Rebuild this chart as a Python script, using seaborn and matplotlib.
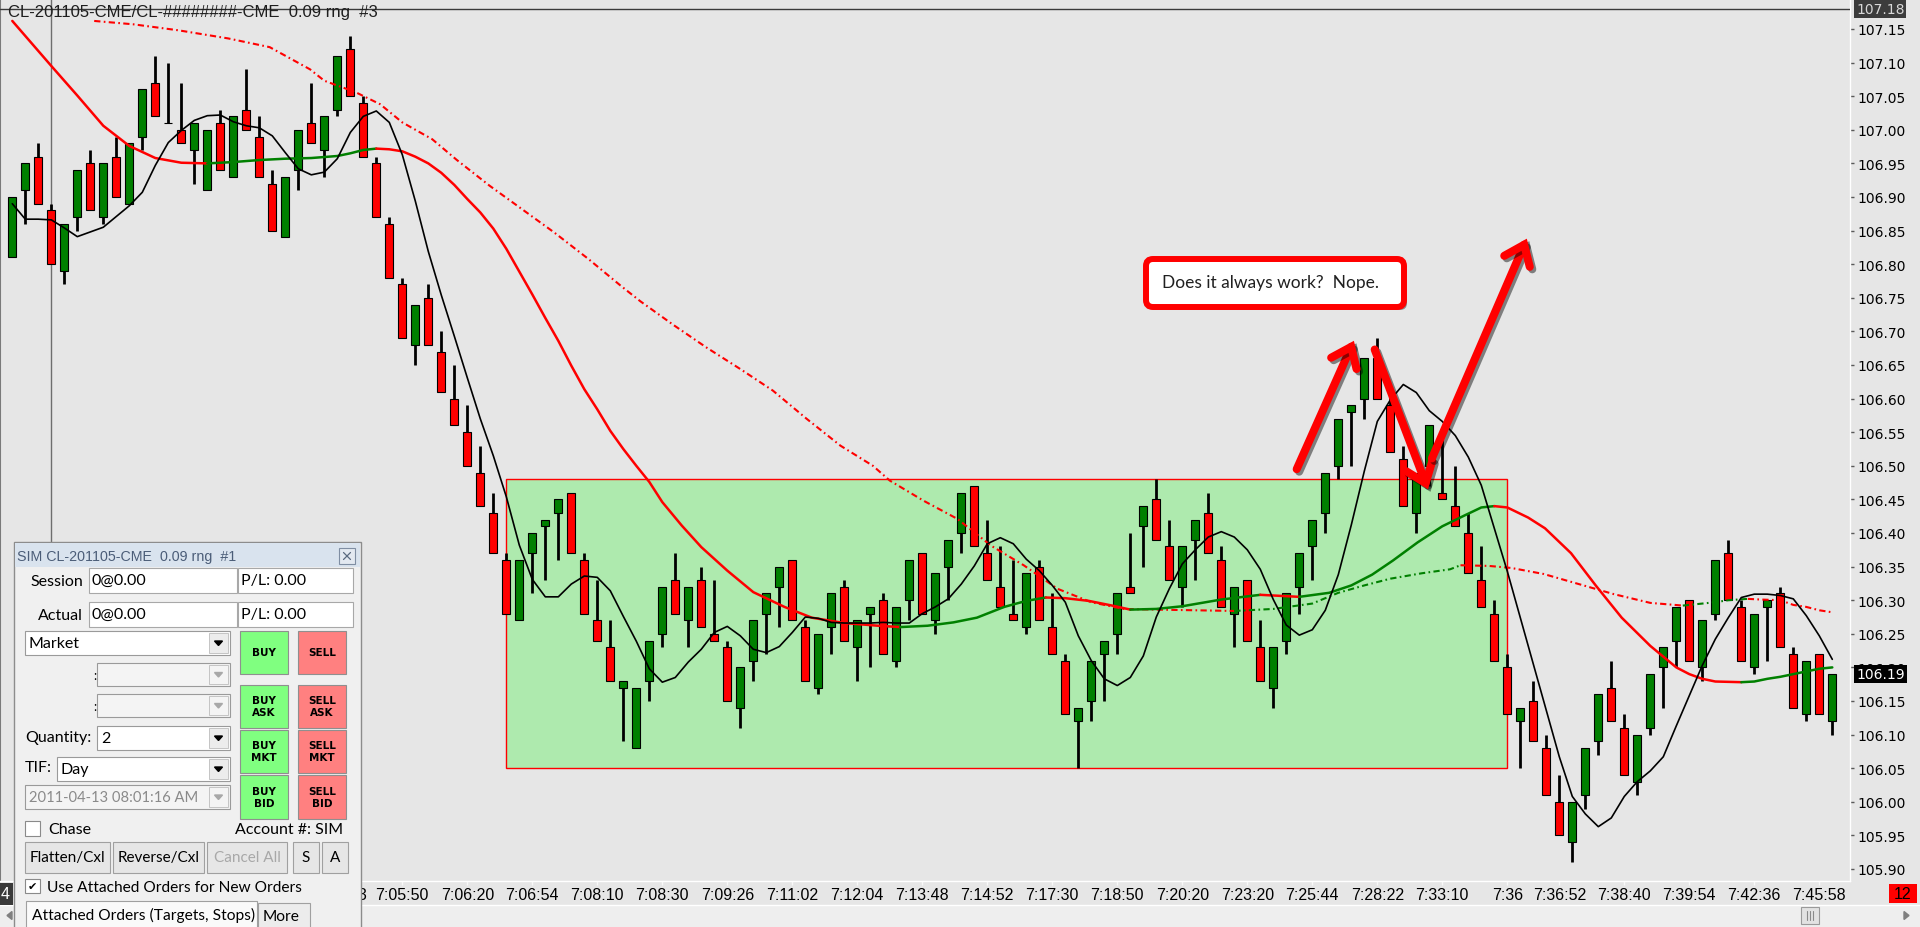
import matplotlib
matplotlib.use("Agg")
import matplotlib.pyplot as plt
import matplotlib.patheffects as pe
import matplotlib.transforms as mtransforms
from matplotlib.patches import FancyBboxPatch, Polygon, Rectangle
import numpy as np
import pandas as pd
import seaborn as sns

# 0.09 range bars, CL-201105
bar_open = [
    106.81, 106.91, 106.96, 106.88, 106.79, 106.87, 106.95, 106.87, 106.96, 106.89,
    106.99, 107.07, 107.01, 107.00, 106.97, 106.91, 107.01, 106.93, 107.03, 106.99,
    106.92, 106.84, 106.94, 107.01, 106.97, 107.03, 107.12, 107.04, 106.95, 106.86,
    106.77, 106.68, 106.75, 106.67, 106.60, 106.55, 106.49, 106.43, 106.36, 106.27,
    106.37, 106.41, 106.43, 106.46, 106.36, 106.27, 106.23, 106.17, 106.08, 106.18,
    106.25, 106.33, 106.27, 106.33, 106.25, 106.23, 106.14, 106.21, 106.28, 106.32,
    106.36, 106.26, 106.17, 106.26, 106.32, 106.23, 106.28, 106.30, 106.21, 106.30,
    106.37, 106.27, 106.35, 106.40, 106.47, 106.37, 106.32, 106.28, 106.26, 106.35,
    106.26, 106.21, 106.12, 106.15, 106.22, 106.25, 106.32, 106.41, 106.45, 106.38,
    106.32, 106.39, 106.43, 106.36, 106.28, 106.33, 106.23, 106.17, 106.24, 106.32,
    106.38, 106.43, 106.50, 106.58, 106.60, 106.66, 106.59, 106.51, 106.43, 106.50,
    106.46, 106.44, 106.40, 106.33, 106.28, 106.20, 106.12, 106.15, 106.08, 106.00,
    105.94, 106.01, 106.09, 106.17, 106.11, 106.03, 106.11, 106.20, 106.24, 106.30,
    106.20, 106.28, 106.37, 106.29, 106.20, 106.29, 106.31, 106.22, 106.13, 106.22,
    106.12,
]
bar_high = [
    106.90, 106.95, 106.98, 106.89, 106.86, 106.94, 106.97, 106.95, 106.99, 106.98,
    107.06, 107.11, 107.10, 107.07, 107.01, 107.00, 107.03, 107.02, 107.09, 107.02,
    106.94, 106.93, 107.00, 107.07, 107.02, 107.11, 107.14, 107.05, 106.96, 106.87,
    106.78, 106.74, 106.77, 106.70, 106.65, 106.59, 106.53, 106.46, 106.37, 106.36,
    106.40, 106.42, 106.45, 106.46, 106.37, 106.33, 106.27, 106.18, 106.17, 106.24,
    106.32, 106.37, 106.32, 106.35, 106.33, 106.24, 106.20, 106.27, 106.31, 106.35,
    106.36, 106.27, 106.25, 106.31, 106.33, 106.27, 106.29, 106.31, 106.29, 106.36,
    106.37, 106.34, 106.39, 106.46, 106.47, 106.42, 106.38, 106.36, 106.34, 106.36,
    106.31, 106.22, 106.14, 106.21, 106.24, 106.31, 106.40, 106.44, 106.48, 106.42,
    106.38, 106.42, 106.46, 106.38, 106.32, 106.33, 106.27, 106.23, 106.31, 106.37,
    106.42, 106.49, 106.57, 106.59, 106.66, 106.69, 106.61, 106.53, 106.49, 106.56,
    106.54, 106.50, 106.43, 106.38, 106.30, 106.22, 106.14, 106.18, 106.10, 106.04,
    106.00, 106.08, 106.16, 106.21, 106.13, 106.10, 106.19, 106.23, 106.29, 106.30,
    106.27, 106.36, 106.39, 106.30, 106.28, 106.30, 106.32, 106.23, 106.21, 106.22,
    106.19,
]
bar_low = [
    106.81, 106.86, 106.89, 106.80, 106.77, 106.85, 106.88, 106.86, 106.90, 106.89,
    106.97, 107.02, 107.01, 106.98, 106.92, 106.91, 106.94, 106.93, 107.00, 106.93,
    106.85, 106.84, 106.91, 106.98, 106.93, 107.02, 107.05, 106.96, 106.87, 106.78,
    106.69, 106.65, 106.68, 106.61, 106.56, 106.50, 106.44, 106.37, 106.28, 106.27,
    106.31, 106.33, 106.36, 106.37, 106.28, 106.24, 106.18, 106.09, 106.08, 106.15,
    106.23, 106.28, 106.23, 106.26, 106.24, 106.15, 106.11, 106.18, 106.22, 106.26,
    106.27, 106.18, 106.16, 106.22, 106.24, 106.18, 106.20, 106.22, 106.20, 106.27,
    106.28, 106.25, 106.30, 106.37, 106.38, 106.33, 106.29, 106.27, 106.25, 106.27,
    106.22, 106.13, 106.05, 106.12, 106.15, 106.22, 106.31, 106.35, 106.39, 106.33,
    106.29, 106.33, 106.37, 106.29, 106.23, 106.24, 106.18, 106.14, 106.22, 106.28,
    106.33, 106.40, 106.48, 106.50, 106.57, 106.60, 106.52, 106.44, 106.40, 106.47,
    106.45, 106.41, 106.34, 106.29, 106.21, 106.13, 106.05, 106.09, 106.01, 105.95,
    105.91, 105.99, 106.07, 106.12, 106.04, 106.01, 106.10, 106.14, 106.20, 106.21,
    106.18, 106.27, 106.30, 106.21, 106.19, 106.21, 106.23, 106.14, 106.12, 106.13,
    106.10,
]
bar_close = [
    106.90, 106.95, 106.89, 106.80, 106.86, 106.94, 106.88, 106.95, 106.90, 106.98,
    107.06, 107.02, 107.01, 106.98, 107.01, 107.00, 106.94, 107.02, 107.00, 106.93,
    106.85, 106.93, 107.00, 106.98, 107.02, 107.11, 107.05, 106.96, 106.87, 106.78,
    106.69, 106.74, 106.68, 106.61, 106.56, 106.50, 106.44, 106.37, 106.28, 106.36,
    106.40, 106.42, 106.45, 106.37, 106.28, 106.24, 106.18, 106.18, 106.17, 106.24,
    106.32, 106.28, 106.32, 106.26, 106.24, 106.15, 106.20, 106.27, 106.31, 106.35,
    106.27, 106.18, 106.25, 106.31, 106.24, 106.27, 106.29, 106.22, 106.29, 106.36,
    106.28, 106.34, 106.39, 106.46, 106.38, 106.33, 106.29, 106.27, 106.34, 106.27,
    106.22, 106.13, 106.14, 106.21, 106.24, 106.31, 106.31, 106.44, 106.39, 106.33,
    106.38, 106.42, 106.37, 106.29, 106.32, 106.24, 106.18, 106.23, 106.31, 106.37,
    106.42, 106.49, 106.57, 106.59, 106.66, 106.60, 106.52, 106.44, 106.49, 106.56,
    106.45, 106.41, 106.34, 106.29, 106.21, 106.13, 106.14, 106.09, 106.01, 105.95,
    106.00, 106.08, 106.16, 106.12, 106.04, 106.10, 106.19, 106.23, 106.29, 106.21,
    106.27, 106.36, 106.30, 106.21, 106.28, 106.30, 106.23, 106.14, 106.21, 106.13,
    106.19,
]

# black fast average, one value per bar
fast_ma = [
    106.890, 106.867, 106.867, 106.866, 106.854, 106.841, 106.848, 106.855, 106.871, 106.887,
    106.907, 106.947, 106.981, 106.999, 107.014, 107.021, 107.022, 107.012, 107.006, 107.003,
    106.991, 106.966, 106.942, 106.933, 106.937, 106.957, 106.996, 107.020, 107.028, 107.011,
    106.963, 106.894, 106.819, 106.754, 106.693, 106.631, 106.570, 106.515, 106.454, 106.382,
    106.331, 106.305, 106.305, 106.324, 106.336, 106.334, 106.314, 106.276, 106.239, 106.198,
    106.178, 106.185, 106.208, 106.227, 106.252, 106.261, 106.247, 106.227, 106.222, 106.231,
    106.252, 106.275, 106.273, 106.267, 106.266, 106.266, 106.266, 106.267, 106.266, 106.266,
    106.280, 106.290, 106.302, 106.324, 106.351, 106.384, 106.393, 106.384, 106.361, 106.344,
    106.322, 106.297, 106.247, 106.210, 106.183, 106.173, 106.185, 106.217, 106.275, 106.317,
    106.354, 106.375, 106.394, 106.402, 106.394, 106.375, 106.346, 106.301, 106.263, 106.248,
    106.256, 106.285, 106.338, 106.412, 106.492, 106.566, 106.598, 106.621, 106.609, 106.582,
    106.566, 106.545, 106.513, 106.471, 106.407, 106.343, 106.274, 106.205, 106.136, 106.067,
    106.008, 105.982, 105.963, 105.976, 106.008, 106.030, 106.046, 106.067, 106.113, 106.158,
    106.203, 106.242, 106.274, 106.304, 106.309, 106.309, 106.307, 106.302, 106.277, 106.247,
    106.212,
]

# solid average (green rising / red falling), sampled along the curve
mid_ma_x = [
    0, 3, 5, 7, 9, 11, 13, 15, 17, 19, 21, 23, 25, 26, 27, 28, 29, 30, 31, 32,
    33, 34, 35, 36, 37, 38, 39, 40, 41, 42, 43, 44, 45, 46, 47, 48, 49, 50, 51.5, 53,
    55, 57, 59.4, 61.5, 64, 66.6, 68.3, 70.4, 72.4, 74.2, 76.3, 78, 79.5, 81, 82.8, 84.6, 86, 88, 90, 93,
    96, 99, 101.3, 103, 104.6, 106.2, 108.1, 110, 111.7, 113, 114, 115, 116.6, 117.9, 119.9, 121.8, 123.8, 126, 128, 129,
    130, 131, 133, 134, 135, 136, 137, 138, 139, 140,
]
mid_ma_y = [
    107.162, 107.095, 107.051, 107.006, 106.976, 106.958, 106.951, 106.950, 106.952, 106.955,
    106.957, 106.958, 106.961, 106.965, 106.970, 106.972, 106.971, 106.968, 106.960, 106.950,
    106.936, 106.918, 106.897, 106.877, 106.853, 106.823, 106.789, 106.755, 106.720, 106.686,
    106.649, 106.614, 106.584, 106.552, 106.525, 106.500, 106.476, 106.446, 106.411, 106.379,
    106.344, 106.312, 106.290, 106.274, 106.266, 106.262, 106.260, 106.262, 106.267, 106.274,
    106.290, 106.299, 106.304, 106.303, 106.299, 106.292, 106.286, 106.287, 106.291, 106.301,
    106.308, 106.305, 106.311, 106.322, 106.338, 106.359, 106.386, 106.410, 106.426, 106.438,
    106.440, 106.438, 106.423, 106.407, 106.370, 106.322, 106.274, 106.232, 106.200, 106.190,
    106.183, 106.179, 106.178, 106.179, 106.183, 106.186, 106.190, 106.194, 106.198, 106.200,
]

# slow dash-dot average
slow_ma_x = [
    6.3, 9.3, 12.8, 16.6, 19.8, 22.9, 24, 26.4, 28.3, 30,
    32.3, 34.2, 36.7, 39.2, 41.7, 44.3, 46.8, 48.3, 50.9, 53.4,
    56, 58.5, 61.1, 63.7, 66.2, 67.5, 70.1, 72.7, 75.3, 77.8,
    80.4, 83, 85.5, 88, 91, 94, 97, 100, 102, 104,
    106, 108.4, 110.6, 111.4, 113.6, 115.3, 117.8, 120.5, 123.2, 126,
    128.5, 131, 132, 133.5, 134.5, 136, 137, 138, 139, 140,
]
slow_ma_y = [
    107.162, 107.157, 107.148, 107.136, 107.123, 107.090, 107.073, 107.056, 107.038, 107.011,
    106.986, 106.955, 106.917, 106.882, 106.847, 106.808, 106.768, 106.745, 106.709, 106.676,
    106.644, 106.612, 106.570, 106.530, 106.500, 106.478, 106.448, 106.421, 106.381, 106.352,
    106.317, 106.297, 106.287, 106.286, 106.285, 106.284, 106.287, 106.295, 106.311, 106.322,
    106.332, 106.340, 106.346, 106.352, 106.351, 106.348, 106.339, 106.324, 106.309, 106.296,
    106.292, 106.297, 106.300, 106.302, 106.301, 106.300, 106.293, 106.290, 106.285, 106.282,
]

price_ticks = [
    105.90, 105.95, 106.00, 106.05, 106.10, 106.15, 106.20, 106.25, 106.30, 106.35,
    106.40, 106.45, 106.50, 106.55, 106.60, 106.65, 106.70, 106.75, 106.80, 106.85,
    106.90, 106.95, 107.00, 107.05, 107.10, 107.15,
]
time_ticks = [30, 35, 40, 45, 50, 55, 60, 65, 70, 75, 80, 85, 90, 95, 100, 105,
              110, 115, 119, 124, 129, 134, 139]
time_labels = ["7:05:50", "7:06:20", "7:06:54", "7:08:10", "7:08:30", "7:09:26",
               "7:11:02", "7:12:04", "7:13:48", "7:14:52", "7:17:30", "7:18:50",
               "7:20:20", "7:23:20", "7:25:44", "7:28:22", "7:33:10", "7:36",
               "7:36:52", "7:38:40", "7:39:54", "7:42:36", "7:45:58"]

top_line_price = 107.18
last_price = 106.19
crosshair_bar = 3
range_box = (38, 115, 106.05, 106.48)  # bar from, bar to, low, high
arrow_tails = [(98.8, 106.495), (104.8, 106.673), (109.2, 106.511)]
arrow_heads = [(103.2, 106.686), (108.9, 106.465), (116.5, 106.838)]

GREEN = "#008000"
RED = "#ff0000"
BG = "#e6e6e6"

sns.set_theme(style="white")
plt.rcParams["font.family"] = ["Liberation Sans", "DejaVu Sans"]

bars = pd.DataFrame({"open": bar_open, "high": bar_high,
                     "low": bar_low, "close": bar_close})
bars["x"] = np.arange(len(bars))

fig = plt.figure(figsize=(19.2, 9.28), dpi=100, facecolor=BG)

# chart pane 1850x882 px, bars every 13 px, 672 px per dollar
ax = fig.add_axes([0, 46 / 928, 1850 / 1920, 882 / 928])
ax.set_facecolor(BG)

x0, x1, lo, hi = range_box
ax.add_patch(Rectangle((x0, lo), x1 - x0, hi - lo, facecolor="#aeeaae",
                       edgecolor=RED, linewidth=1.0, zorder=1))
ax.axvline(crosshair_bar, color="#6e6e6e", linewidth=1.0, zorder=2)

up = bars["close"] >= bars["open"]
body_lo = bars[["open", "close"]].min(axis=1)
body_h = (bars["close"] - bars["open"]).abs()
ax.vlines(bars["x"], bars["low"], bars["high"], color="black", linewidth=2.0, zorder=3)
ax.bar(bars["x"], body_h, bottom=body_lo, width=0.64,
       color=np.where(up, GREEN, RED), edgecolor="black", linewidth=0.8, zorder=4)


def sloped_line(xs, ys, **kw):
    """Draw a line green where it rises and red where it falls."""
    xs = np.asarray(xs)
    ys = np.asarray(ys)
    rising = np.diff(ys) >= 0
    start = 0
    for k in range(1, len(rising) + 1):
        if k == len(rising) or rising[k] != rising[start]:
            ax.plot(xs[start:k + 1], ys[start:k + 1],
                    color=GREEN if rising[start] else RED, **kw)
            start = k


sloped_line(slow_ma_x, slow_ma_y, linewidth=1.5, linestyle=(0, (3, 1.6, 0.8, 1.6)), zorder=5)
sloped_line(mid_ma_x, mid_ma_y, linewidth=1.8, solid_capstyle="round", zorder=5)
sns.lineplot(x=bars["x"], y=fast_ma, ax=ax, color="black", linewidth=1.2,
             estimator=None, sort=False, legend=False, zorder=6)

ax.axhline(top_line_price, color="#3a3a3a", linewidth=1.0, zorder=7)

shadow = [pe.SimpleLineShadow(offset=(1.8, -1.8), shadow_color="black", alpha=0.45),
          pe.Normal()]
for tail, head in zip(arrow_tails, arrow_heads):
    ax.annotate("", xy=head, xytext=tail, zorder=8,
                arrowprops=dict(arrowstyle="->,head_length=0.65,head_width=0.5",
                                color=RED, lw=5.8, mutation_scale=20,
                                shrinkA=0, shrinkB=0, capstyle="round",
                                joinstyle="miter", path_effects=shadow))

ax.set_xlim(-12.3 / 13, (1850 - 12.3) / 13)
ax.set_ylim(107.15 - 852 / 672, 107.15 + 30 / 672)
ax.set_xlabel("")
ax.set_ylabel("")

ax.yaxis.tick_right()
ax.set_yticks(price_ticks)
ax.set_yticklabels([f"{p:.2f}" for p in price_ticks], fontfamily="DejaVu Sans",
                   fontsize=10, color="black")
ax.tick_params(axis="y", which="both", right=True, left=False, direction="out",
               length=3, width=1, color="#5a5a5a", pad=2)
ax.set_xticks(time_ticks)
ax.set_xticklabels(time_labels, fontfamily="Liberation Sans", fontsize=11.5, color="black")
ax.tick_params(axis="x", bottom=True, direction="out", length=3, width=1,
               color="#f8f8f8", pad=1.5)

ax.spines["top"].set_visible(False)
ax.spines["left"].set_color("#7a7a7a")
ax.spines["left"].set_linewidth(1.5)
ax.spines["right"].set_color("white")
ax.spines["right"].set_linewidth(1.0)
ax.spines["bottom"].set_color("white")
ax.spines["bottom"].set_linewidth(1.0)

price_lab = mtransforms.blended_transform_factory(ax.transAxes, ax.transData)
ax.text(1856 / 1850, top_line_price, f"{top_line_price:.2f}", transform=price_lab,
        ha="left", va="center", fontfamily="DejaVu Sans", fontsize=10, color="#d8d8d8",
        bbox=dict(boxstyle="square,pad=0.12", fc="#3c3c3c", ec="none"),
        clip_on=False, zorder=10)
# the last-price flag sits over the 106.20 scale label, as on the platform
ax.text(1856 / 1850, last_price, f"{last_price:.2f}", transform=price_lab,
        ha="left", va="center", fontfamily="DejaVu Sans", fontsize=10, color="white",
        bbox=dict(boxstyle="square,pad=0.15", fc="black", ec="none"),
        clip_on=False, zorder=10)

# screen overlay in pixel units for the window chrome and the order panel
ov = fig.add_axes([0, 0, 1, 1])
ov.set_xlim(0, 1920)
ov.set_ylim(928, 0)
ov.axis("off")


def px_box(xa, ya, xb, yb, fc, ec="none", lw=0.8, z=20):
    ov.add_patch(Rectangle((xa, ya), xb - xa, yb - ya, facecolor=fc,
                           edgecolor=ec, linewidth=lw, zorder=z))


def px_text(x, y, s, size=11.5, ha="left", color="black", family="Lato",
            weight="normal", z=22, **kw):
    ov.text(x, y, s, fontsize=size, ha=ha, va="center", color=color,
            fontfamily=family, fontweight=weight, zorder=z, **kw)


px_text(8, 12.5, "CL-201105-CME/CL-########-CME  0.09 rng  #3", size=12,
        family="Liberation Sans", color="#1e1e1e", z=3)

# annotation callout
ov.add_patch(FancyBboxPatch((1149, 263), 258, 48, boxstyle="round,pad=0,rounding_size=7",
                            fc="#404040", ec="none", alpha=0.55, zorder=8))
ov.add_patch(FancyBboxPatch((1146, 260), 258, 48, boxstyle="round,pad=0,rounding_size=7",
                            fc="white", ec=RED, lw=4.3, zorder=9))
px_text(1162, 283, "Does it always work?  Nope.", size=12.5, color="#202020", z=10)

# bottom strip: scroll bar, corner boxes
px_box(0, 906, 1920, 928, "#eeeeee", z=4)
ov.plot([0, 1920], [906, 906], color="white", linewidth=1, zorder=5)
px_box(1801, 908, 1819, 925, "#e2e2e2", "#9a9a9a", z=5)
for gx in (1807, 1810, 1813):
    ov.plot([gx, gx], [912, 921], color="#8a8a8a", linewidth=0.8, zorder=6)
ov.add_patch(Polygon([(1904, 912.5), (1904, 920.5), (1909, 916.5)], closed=True,
                     color="#808080", zorder=6))
ov.add_patch(Polygon([(12, 912.5), (12, 920.5), (7, 916.5)], closed=True,
                     color="#808080", zorder=6))
px_box(1889, 885, 1917, 904, RED, z=5)
px_text(1903, 894.5, "12", size=11.5, ha="center", family="Liberation Sans", z=6)
px_box(0, 884, 13, 906, "#3a3a3a", z=5)
px_text(1, 895, "4", size=11.5, family="Liberation Sans", color="white", z=6)
px_text(362, 896, "3", size=11.5, ha="center", family="Liberation Sans", z=6)

# order entry panel
px_box(14, 543, 361, 930, "#f0f0f0", "#8c8c8c", lw=1.0, z=20)
px_box(15, 544, 360, 568, "#d9e3ee", z=21)
px_text(17, 557, "SIM CL-201105-CME  0.09 rng  #1", size=10.3,
        family="Liberation Sans", color="#4b5d78")
px_box(339, 549, 355, 565, "#e3e9f1", "#7f8ea3", z=22)
ov.plot([343.5, 350.5], [553.5, 560.5], color="#5a6a80", linewidth=0.9, zorder=23)
ov.plot([343.5, 350.5], [560.5, 553.5], color="#5a6a80", linewidth=0.9, zorder=23)

for row_y, row_label in ((569, "Session"), (603, "Actual")):
    px_text(83, row_y + 13, row_label, ha="right")
    px_box(89, row_y, 237, row_y + 25, "white", "#a8a8a8", z=21)
    px_box(238, row_y, 353, row_y + 25, "white", "#a8a8a8", z=21)
    px_text(91, row_y + 12, "0@0.00")
    px_text(241, row_y + 12, "P/L: 0.00")


def dropdown(xa, ya, xb, yb, text, enabled=True, size=11.5):
    px_box(xa, ya, xb, yb, "white" if enabled else "#f4f4f4", "#9a9a9a", z=21)
    px_box(xb - 21, ya + 2, xb - 2, yb - 2, "#ececec" if enabled else "#f4f4f4",
           "#bcbcbc", lw=0.6, z=22)
    cx, cy = xb - 11.5, (ya + yb) / 2
    ov.add_patch(Polygon([(cx - 4, cy - 2), (cx + 4, cy - 2), (cx, cy + 2.5)],
                         closed=True, color="black" if enabled else "#a8a8a8", zorder=23))
    if text:
        px_text(xa + 4, cy, text, color="black" if enabled else "#8a8a8a", size=size)


dropdown(25, 632, 230, 656, "Market")
px_text(93, 676, ":", size=9)
dropdown(97, 664, 230, 687, "", enabled=False)
px_text(93, 707, ":", size=9)
dropdown(97, 695, 230, 718, "", enabled=False)
px_text(92, 738, "Quantity:", ha="right")
dropdown(97, 727, 230, 751, "2")
px_text(25, 768, "TIF:")
dropdown(57, 758, 230, 782, "Day")
dropdown(25, 786, 230, 810, "2011-04-13 08:01:16 AM", enabled=False, size=10.6)

order_buttons = [("BUY", 632, 675), ("ASK", 686, 729), ("MKT", 731, 774), ("BID", 776, 820)]
for word, ya, yb in order_buttons:
    for xa, xb, fc, side in ((240, 288, "#80ff80", "BUY"), (298, 346, "#ff8080", "SELL")):
        px_box(xa, ya, xb, yb, fc, "#8f8f8f", z=21)
        label = side if word == "BUY" else f"{side}\n{word}"
        px_text((xa + xb) / 2, (ya + yb) / 2, label, size=7.5, ha="center",
                family="DejaVu Sans", weight="bold", linespacing=1.25)

px_box(25, 822, 40, 837, "white", "#8a8a8a", z=21)
px_text(48, 830, "Chase")
px_text(343, 830, "Account #: SIM", ha="right")

for xa, xb, text, col in ((25, 110, "Flatten/Cxl", "black"), (113, 204, "Reverse/Cxl", "black"),
                          (207, 287, "Cancel All", "#a8a8a8"), (293, 319, "S", "black"),
                          (322, 348, "A", "black")):
    px_box(xa, 843, xb, 874, "#e6e6e6", "#a0a0a0", z=21)
    px_text((xa + xb) / 2, 858.5, text, ha="center", color=col, size=11)

px_box(25, 880, 40, 894, "white", "#8a8a8a", z=21)
px_text(32.5, 887, "\u2714", size=8, ha="center", family="DejaVu Sans")
px_text(47, 888, "Use Attached Orders for New Orders", size=11.2)
px_box(26, 902, 257, 932, "#fafafa", "#a0a0a0", z=21)
px_text(32, 915, "Attached Orders (Targets, Stops)", size=11.2)
px_box(258, 904, 310, 932, "#ececec", "#a0a0a0", z=21)
px_text(263, 917, "More", size=11.2)

fig.savefig("out.png", dpi=100, facecolor=BG)
